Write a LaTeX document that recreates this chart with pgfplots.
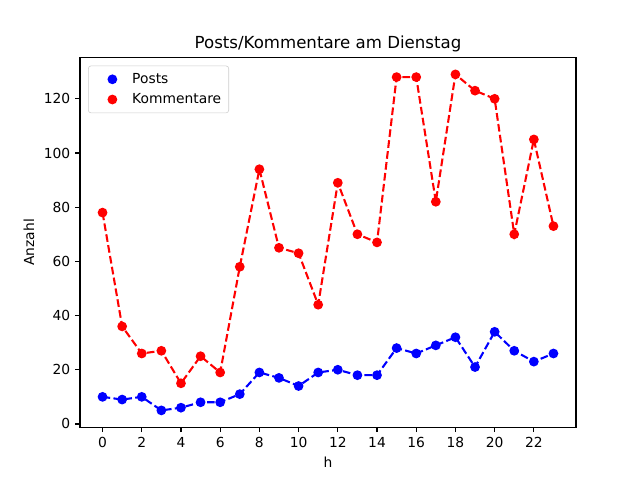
\documentclass[border=0pt]{standalone}
\usepackage{pgfplots}
\pgfplotsset{compat=1.18}
\usepackage{fontspec}
\setmainfont{DejaVu Sans}
\begin{document}
\begin{tikzpicture}[x=1in,y=1in]
\useasboundingbox (0,0) rectangle (6.4,4.8);
\begin{axis}[
  at={(0.8in,0.528in)}, anchor=south west,
  width=4.96in, height=3.696in, scale only axis,
  xmin=-1.15, xmax=24.15, ymin=-1.2, ymax=135.2,
  xtick={0,2,...,22}, ytick={0,20,...,120},
  tick align=outside, tick pos=left,
  major tick length=3.5pt,
  every tick/.style={black, line width=0.8pt},
  axis line style={line width=0.8pt},
  /pgf/number format/assume math mode=true,
  ticklabel style={font=\fontsize{10}{12}\selectfont},
  title={Posts/Kommentare am Dienstag},
  title style={font=\fontsize{12}{14}\selectfont, yshift=-5.5pt},
  xlabel={h}, ylabel={Anzahl},
  label style={font=\fontsize{10}{12}\selectfont},
  legend style={draw=black!20, rounded corners=2pt, font=\fontsize{10}{12}\selectfont,
    at={(rel axis cs:0,1)}, anchor=north west, xshift=5.8pt, yshift=-5.8pt,
    inner xsep=3pt, inner ysep=2.8pt, row sep=0.8pt,
    nodes={inner sep=2.5pt}},
  legend cell align=left,
  legend image code/.code={\path (0cm,0cm) (0.87cm,0cm); \draw[solid] plot coordinates {(0.48cm,0cm)};},
]
\addplot[blue, line width=1.5pt, dash pattern=on 5.55pt off 2.4pt, mark=*, mark size=3pt, mark options={solid, fill=blue, draw=blue, line width=1pt}]
coordinates {(0,10)(1,9)(2,10)(3,5)(4,6)(5,8)(6,8)(7,11)(8,19)(9,17)(10,14)(11,19)(12,20)(13,18)(14,18)(15,28)(16,26)(17,29)(18,32)(19,21)(20,34)(21,27)(22,23)(23,26)};
\addlegendentry{Posts}
\addplot[red, line width=1.5pt, dash pattern=on 5.55pt off 2.4pt, mark=*, mark size=3pt, mark options={solid, fill=red, draw=red, line width=1pt}]
coordinates {(0,78)(1,36)(2,26)(3,27)(4,15)(5,25)(6,19)(7,58)(8,94)(9,65)(10,63)(11,44)(12,89)(13,70)(14,67)(15,128)(16,128)(17,82)(18,129)(19,123)(20,120)(21,70)(22,105)(23,73)};
\addlegendentry{Kommentare}
\end{axis}
\end{tikzpicture}
\end{document}
